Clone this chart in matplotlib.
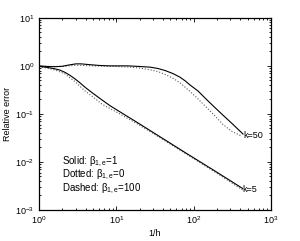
import numpy as np
import matplotlib
matplotlib.use('Agg')
import matplotlib.pyplot as plt

plt.rcParams['font.family'] = ['Liberation Sans', 'DejaVu Sans']
plt.rcParams['mathtext.fontset'] = 'custom'
plt.rcParams['mathtext.rm'] = 'Liberation Sans'
plt.rcParams['mathtext.it'] = 'Liberation Sans'

# k=50 curves
h50 = [1, 1.3, 1.6, 2, 2.5, 3, 3.5, 4.5, 6, 8, 10, 14, 20, 27.3, 34.6, 42.7, 54.2,
       66.7, 77.4, 89.8, 114, 149, 189, 240, 314, 436]
solid50 = [1.0, 0.97, 0.96, 0.98, 1.05, 1.1, 1.1, 1.06, 1.02, 1.0, 1.0, 1.0, 0.97, 0.94,
           0.88, 0.80, 0.69, 0.58, 0.49, 0.40, 0.30, 0.195, 0.135, 0.094, 0.063, 0.038]
h50d = [1, 2, 3, 5, 10, 15, 20, 27.3, 34.6, 42.7, 54.2, 66.7, 89.8, 114, 149, 189,
        240, 314, 423]
dotted50 = [0.97, 0.97, 1.03, 1.0, 0.97, 0.94, 0.9, 0.83, 0.76, 0.665, 0.55, 0.443,
            0.294, 0.205, 0.133, 0.091, 0.060, 0.043, 0.034]

# k=5 curves
h5 = [1, 1.27, 1.61, 1.87, 2.17, 2.52, 2.92, 3.39, 3.93, 5.0, 6.5, 8.3, 10.5, 17.4,
      30, 80, 200, 430]
solid5 = [0.976, 0.93, 0.866, 0.814, 0.732, 0.634, 0.536, 0.443, 0.36, 0.267, 0.196,
          0.148, 0.117, 0.071, 0.041, 0.0152, 0.0061, 0.0028]
h5d = [1, 1.27, 1.61, 2.17, 2.92, 3.93, 5.0, 6.5, 10.5, 17.4, 30, 80, 200, 430]
dotted5 = [0.96, 0.9, 0.82, 0.68, 0.47, 0.30, 0.225, 0.16, 0.105, 0.066, 0.039,
           0.0146, 0.0058, 0.0026]

fig = plt.figure(figsize=(3.0, 2.41), dpi=100)
ax = fig.add_axes([0.13, 0.129, 0.773, 0.797])

ax.plot(h50d, dotted50, color='0.35', linestyle=':', linewidth=0.8)
ax.plot(h5d, dotted5, color='0.35', linestyle=':', linewidth=0.8)
ax.plot(h50, solid50, color='black', linewidth=0.8)
ax.plot(h5, solid5, color='black', linewidth=0.8)

ax.set_xscale('log')
ax.set_yscale('log')
ax.set_xlim(1, 1000)
ax.set_ylim(1e-3, 10)

ax.tick_params(which='both', direction='in', top=True, right=True, labelsize=6.5, width=0.6)
ax.tick_params(which='major', length=3)
ax.tick_params(which='minor', length=1.5)
for s in ax.spines.values():
    s.set_linewidth(0.9)

ax.set_xlabel('1/h', fontsize=6.5, labelpad=2)
ax.set_ylabel('Relative error', fontsize=6.5, labelpad=2)

ax.text(0.099, 0.25, r'Solid: $\beta_{1,e}$=1', transform=ax.transAxes, fontsize=7, va='center')
ax.text(0.099, 0.182, r'Dotted: $\beta_{1,e}$=0', transform=ax.transAxes, fontsize=7, va='center')
ax.text(0.099, 0.109, r'Dashed: $\beta_{1,e}$=100', transform=ax.transAxes, fontsize=7, va='center')

ax.text(440, 0.036, 'k=50', fontsize=6.5, va='center', ha='left')
ax.text(430, 0.0027, 'k=5', fontsize=6.5, va='center', ha='left')

fig.savefig('out.png', dpi=100)
